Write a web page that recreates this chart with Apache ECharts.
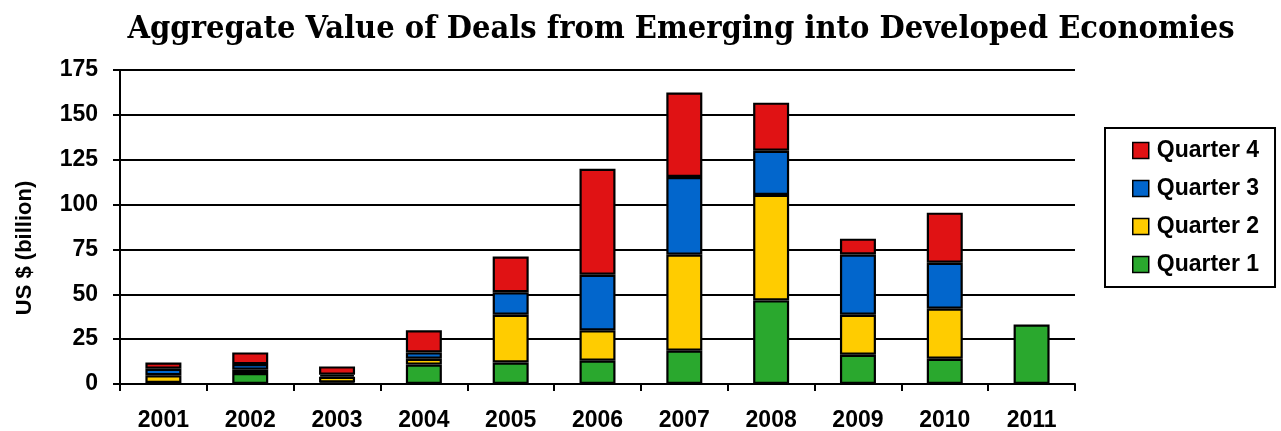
<!DOCTYPE html>
<html><head><meta charset="utf-8">
<script src="https://cdn.jsdelivr.net/npm/echarts@6/dist/echarts.min.js"></script>
<style>html,body{margin:0;padding:0;background:#fff}#c{width:1281px;height:431px}</style>
</head><body><div id="c"></div>
<script>
const years = ['2001','2002','2003','2004','2005','2006','2007','2008','2009','2010','2011'];
const q1 = [0.6, 6.1, 0.8, 10.8, 12.0, 13.0, 18.6, 46.6, 16.3, 14.1, 33.1];
const q2 = [4.3, 1.9, 3.2, 3.3, 26.6, 16.9, 53.5, 58.8, 22.3, 27.9, null];
const q3 = [3.6, 3.1, 1.2, 3.5, 12.5, 31.0, 43.3, 24.6, 33.6, 25.6, null];
const q4 = [3.5, 6.5, 4.6, 12.3, 20.0, 59.1, 47.0, 26.8, 8.8, 27.9, null];
const yTicks = [0, 25, 50, 75, 100, 125, 150, 175];
const seriesNames = ['Quarter 1','Quarter 2','Quarter 3','Quarter 4'];
const colors = ['#2AA82E','#FFCC00','#0266CC','#E01214'];

const chart = echarts.init(document.getElementById('c'));
const sdata = [q1, q2, q3, q4];
const lab = {fontFamily: 'Liberation Sans', fontWeight: 'bold', fontSize: 23, color: '#000'};
chart.setOption({
  animation: false,
  title: {
    text: 'Aggregate Value of Deals from Emerging into Developed Economies',
    left: 676, textAlign: 'center', top: 9,
    textStyle: {fontFamily: 'DejaVu Serif Condensed', fontWeight: 'bold', fontSize: 32.3, color: '#000'}
  },
  legend: {
    data: ['Quarter 4','Quarter 3','Quarter 2','Quarter 1'],
    orient: 'vertical', left: 1105, top: 128,
    padding: [11, 16, 11, 27],
    itemWidth: 16, itemHeight: 16, itemGap: 15,
    icon: 'rect',
    borderColor: '#000', borderWidth: 2,
    textStyle: Object.assign({padding: [0, 0, 0, 3]}, lab),
    itemStyle: {borderColor: '#000', borderWidth: 1.5}
  },
  grid: {left: 120, right: 206, top: 70, bottom: 47, outerBoundsMode: 'none', containLabel: false},
  xAxis: {
    type: 'category', data: years,
    axisLine: {lineStyle: {color: '#000', width: 2}},
    axisTick: {show: true, length: 7, lineStyle: {color: '#000', width: 2}},
    axisLabel: Object.assign({margin: 25}, lab)
  },
  yAxis: {
    type: 'value', min: yTicks[0], max: yTicks[yTicks.length-1], interval: 25,
    name: 'US $ (billion)', nameLocation: 'middle', nameGap: 84, nameRotate: 90,
    nameTextStyle: Object.assign({padding: [0, 42, 0, 0]}, lab, {fontSize: 22}),
    axisLine: {show: true, lineStyle: {color: '#000', width: 2}},
    axisTick: {show: true, length: 7, lineStyle: {color: '#000', width: 2}},
    axisLabel: Object.assign({margin: 22}, lab),
    splitLine: {lineStyle: {color: '#000', width: 2}}
  },
  series: seriesNames.map((n, i) => ({
    name: n, type: 'bar', stack: 'q', data: sdata[i], barWidth: 36,
    itemStyle: {color: colors[i], borderColor: '#000', borderWidth: 2.2}
  }))
});
</script></body></html>
